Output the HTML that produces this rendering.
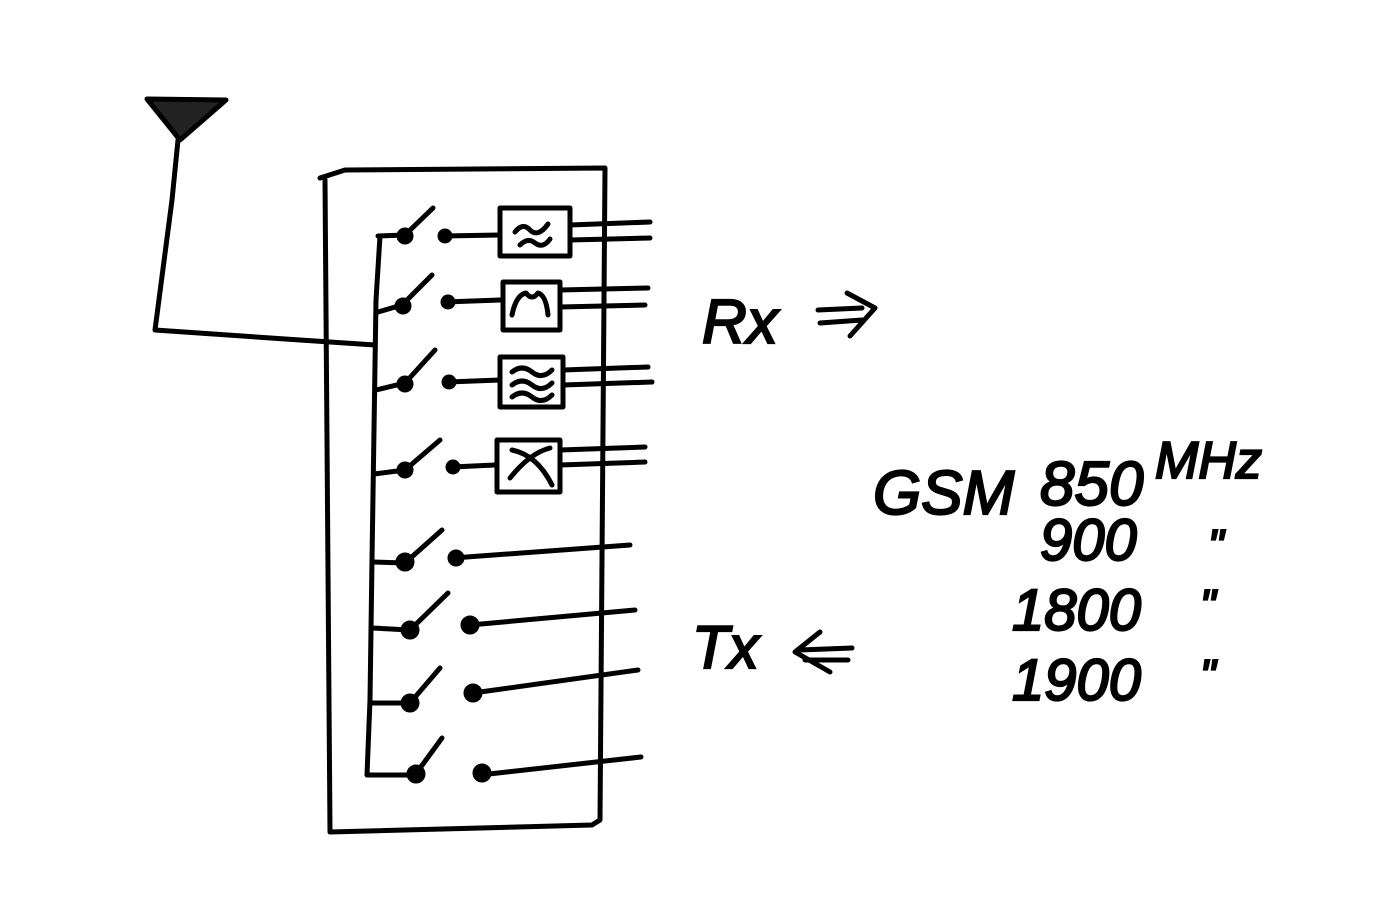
<!DOCTYPE html>
<html><head><meta charset="utf-8"><style>
html,body{margin:0;padding:0;background:#fff;}
svg{display:block;}
text{font-family:"Liberation Sans",sans-serif;fill:#000;stroke:#000;stroke-width:2.2;font-style:italic;}
</style></head><body>
<svg width="1378" height="920" viewBox="0 0 1378 920" xmlns="http://www.w3.org/2000/svg">
<g fill="none" stroke="#000" stroke-width="5" stroke-linecap="round" stroke-linejoin="round">
<!-- antenna -->
<path d="M147,99 L226,100 L180,140 Z" fill="#222"/>
<path d="M178,140 L172,200 L155,330 L300,340 L375,345"/>
<!-- outer box -->
<path d="M320,178 L345,170 L605,168 L600,820 L592,825 L330,832 L325,180"/>
<!-- bus -->
<path d="M380,236 L376,300 L372,560 L370,700 L367,775 L415,775"/>
<!-- Rx rows -->
<path d="M378,236 L405,235 M405,235 L433,208 M443,236 L500,235"/>
<circle cx="405" cy="236" r="6" fill="#000"/><circle cx="445" cy="236" r="5" fill="#000"/>
<rect x="500" y="208" width="70" height="48"/>
<path d="M515,232 q8,-10 15,-2 q8,8 18,-6 M520,245 q8,-8 15,-2 q8,6 15,-4"/>
<path d="M570,225 L650,222 M570,240 L650,238"/>

<path d="M378,312 L402,305 L432,275 M445,302 L500,300"/>
<circle cx="403" cy="306" r="6" fill="#000"/><circle cx="448" cy="302" r="5" fill="#000"/>
<rect x="503" y="282" width="57" height="48"/>
<path d="M512,315 q4,-20 14,-22 q6,8 12,0 q8,2 10,22"/>
<path d="M560,290 L648,288 M560,307 L645,305"/>

<path d="M376,390 L405,383 L435,350 M448,382 L500,380"/>
<circle cx="405" cy="384" r="6" fill="#000"/><circle cx="449" cy="382" r="5" fill="#000"/>
<rect x="500" y="357" width="63" height="50"/>
<path d="M512,372 q10,-8 20,0 q10,8 20,-2 M512,385 q10,-8 20,0 q10,8 20,-2 M512,397 q10,-8 20,0 q10,8 20,-2"/>
<path d="M563,370 L648,367 M563,385 L652,382"/>

<path d="M374,474 L405,470 L440,440 M452,467 L495,465"/>
<circle cx="405" cy="470" r="6" fill="#000"/><circle cx="453" cy="467" r="5" fill="#000"/>
<rect x="497" y="440" width="63" height="52"/>
<path d="M512,450 q25,5 40,35 M510,478 q20,-25 40,-30"/>
<path d="M560,450 L645,447 M560,465 L645,462"/>

<!-- Tx rows -->
<path d="M372,562 L405,563 L442,530 M453,558 L630,545"/>
<circle cx="405" cy="562" r="7" fill="#000"/><circle cx="456" cy="558" r="6" fill="#000"/>
<path d="M372,628 L410,630 L448,593 M470,625 L635,610"/>
<circle cx="410" cy="630" r="7" fill="#000"/><circle cx="470" cy="625" r="7" fill="#000"/>
<path d="M370,703 L410,703 L440,668 M473,693 L638,670"/>
<circle cx="410" cy="703" r="7" fill="#000"/><circle cx="473" cy="693" r="7" fill="#000"/>
<path d="M415,775 L442,738 M480,775 L641,757"/>
<circle cx="416" cy="774" r="7" fill="#000"/><circle cx="482" cy="773" r="7" fill="#000"/>

<!-- arrows -->
<path d="M818,310 L862,308 M820,323 L862,320 M847,293 L875,308 L850,336"/>
<path d="M800,650 L852,648 M805,660 L848,660 M820,632 L795,652 L830,672"/>
</g>
<text x="702" y="343" font-size="62">Rx</text>
<text x="692" y="668" font-size="60">Tx</text>
<text x="873" y="514" font-size="62">GSM</text>
<text x="1040" y="505" font-size="62">850</text>
<text x="1155" y="478" font-size="52">MHz</text>
<text x="1040" y="560" font-size="58">900</text>
<text x="1208" y="560" font-size="44">"</text>
<text x="1012" y="630" font-size="58">1800</text>
<text x="1200" y="620" font-size="44">"</text>
<text x="1012" y="700" font-size="58">1900</text>
<text x="1200" y="690" font-size="44">"</text>
</svg>
</body></html>
